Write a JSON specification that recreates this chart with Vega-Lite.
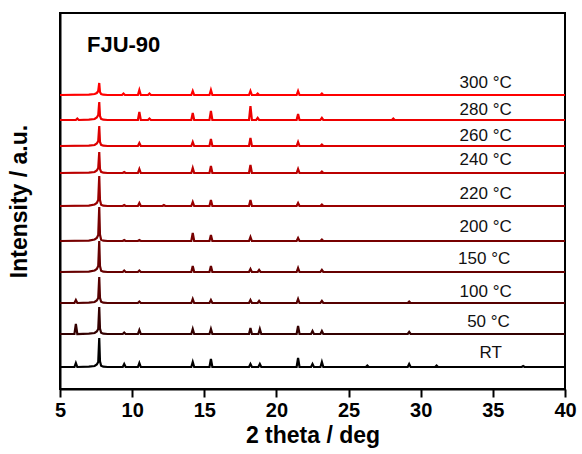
{
"$schema": "https://vega.github.io/schema/vega-lite/v6.json",
"width": 505, "height": 376,
"autosize": {"type": "none"},
"padding": {"left": 60, "top": 13, "right": 17, "bottom": 65},
"config": {"view": {"stroke": "black", "strokeWidth": 2}, "font": "Liberation Sans"},
"layer": [
{
"data": {"values": [
{"s":"RT","t":5,"v":22},{"s":"RT","t":6.0,"v":22},{"s":"RT","t":6.1,"v":26},{"s":"RT","t":6.2,"v":22},{"s":"RT","t":7.0,"v":22.3},{"s":"RT","t":7.4,"v":23},{"s":"RT","t":7.55,"v":24.5},{"s":"RT","t":7.65,"v":27},{"s":"RT","t":7.72,"v":51},{"s":"RT","t":7.77,"v":27.8},{"s":"RT","t":7.85,"v":23.2},{"s":"RT","t":8.0,"v":22.3},{"s":"RT","t":8.3,"v":22},{"s":"RT","t":9.35,"v":22},{"s":"RT","t":9.45,"v":25},{"s":"RT","t":9.55,"v":22},{"s":"RT","t":10.4,"v":22},{"s":"RT","t":10.5,"v":26},{"s":"RT","t":10.6,"v":22},{"s":"RT","t":14.1,"v":22},{"s":"RT","t":14.2,"v":27},{"s":"RT","t":14.3,"v":22},{"s":"RT","t":15.36,"v":22},{"s":"RT","t":15.46,"v":30},{"s":"RT","t":15.56,"v":22},{"s":"RT","t":18.1,"v":22},{"s":"RT","t":18.2,"v":25},{"s":"RT","t":18.3,"v":22},{"s":"RT","t":18.75,"v":22},{"s":"RT","t":18.85,"v":25},{"s":"RT","t":18.95,"v":22},{"s":"RT","t":21.4,"v":22},{"s":"RT","t":21.5,"v":31},{"s":"RT","t":21.6,"v":22},{"s":"RT","t":22.4,"v":22},{"s":"RT","t":22.5,"v":25},{"s":"RT","t":22.6,"v":22},{"s":"RT","t":23.05,"v":22},{"s":"RT","t":23.15,"v":27},{"s":"RT","t":23.25,"v":22},{"s":"RT","t":26.2,"v":22},{"s":"RT","t":26.3,"v":23.5},{"s":"RT","t":26.4,"v":22},{"s":"RT","t":29.1,"v":22},{"s":"RT","t":29.2,"v":25},{"s":"RT","t":29.3,"v":22},{"s":"RT","t":31.0,"v":22},{"s":"RT","t":31.1,"v":23.5},{"s":"RT","t":31.2,"v":22},{"s":"RT","t":37.0,"v":22},{"s":"RT","t":37.1,"v":23},{"s":"RT","t":37.2,"v":22},{"s":"RT","t":40,"v":22},

{"s":"50","t":5,"v":55},{"s":"50","t":6.0,"v":55},{"s":"50","t":6.1,"v":65},{"s":"50","t":6.2,"v":55},{"s":"50","t":7.0,"v":55.3},{"s":"50","t":7.4,"v":56},{"s":"50","t":7.55,"v":57.5},{"s":"50","t":7.65,"v":60},{"s":"50","t":7.72,"v":82},{"s":"50","t":7.77,"v":60.4},{"s":"50","t":7.85,"v":56.2},{"s":"50","t":8.0,"v":55.3},{"s":"50","t":8.3,"v":55},{"s":"50","t":9.35,"v":55},{"s":"50","t":9.45,"v":56.5},{"s":"50","t":9.55,"v":55},{"s":"50","t":10.4,"v":55},{"s":"50","t":10.5,"v":59},{"s":"50","t":10.6,"v":55},{"s":"50","t":14.1,"v":55},{"s":"50","t":14.2,"v":60},{"s":"50","t":14.3,"v":55},{"s":"50","t":15.36,"v":55},{"s":"50","t":15.46,"v":60},{"s":"50","t":15.56,"v":55},{"s":"50","t":18.1,"v":55},{"s":"50","t":18.2,"v":61},{"s":"50","t":18.3,"v":55},{"s":"50","t":18.75,"v":55},{"s":"50","t":18.85,"v":60},{"s":"50","t":18.95,"v":55},{"s":"50","t":21.4,"v":55},{"s":"50","t":21.5,"v":63},{"s":"50","t":21.6,"v":55},{"s":"50","t":22.4,"v":55},{"s":"50","t":22.5,"v":58},{"s":"50","t":22.6,"v":55},{"s":"50","t":23.05,"v":55},{"s":"50","t":23.15,"v":58},{"s":"50","t":23.25,"v":55},{"s":"50","t":29.1,"v":55},{"s":"50","t":29.2,"v":57},{"s":"50","t":29.3,"v":55},{"s":"50","t":40,"v":55},

{"s":"100","t":5,"v":86},{"s":"100","t":6.0,"v":86},{"s":"100","t":6.1,"v":89},{"s":"100","t":6.2,"v":86},{"s":"100","t":7.0,"v":86.3},{"s":"100","t":7.4,"v":87},{"s":"100","t":7.55,"v":88.5},{"s":"100","t":7.65,"v":91},{"s":"100","t":7.72,"v":112},{"s":"100","t":7.77,"v":91.2},{"s":"100","t":7.85,"v":87.2},{"s":"100","t":8.0,"v":86.3},{"s":"100","t":8.3,"v":86},{"s":"100","t":10.4,"v":86},{"s":"100","t":10.5,"v":87.5},{"s":"100","t":10.6,"v":86},{"s":"100","t":14.1,"v":86},{"s":"100","t":14.2,"v":90},{"s":"100","t":14.3,"v":86},{"s":"100","t":15.36,"v":86},{"s":"100","t":15.46,"v":89},{"s":"100","t":15.56,"v":86},{"s":"100","t":18.1,"v":86},{"s":"100","t":18.2,"v":89},{"s":"100","t":18.3,"v":86},{"s":"100","t":18.7,"v":86},{"s":"100","t":18.8,"v":88},{"s":"100","t":18.9,"v":86},{"s":"100","t":21.4,"v":86},{"s":"100","t":21.5,"v":90},{"s":"100","t":21.6,"v":86},{"s":"100","t":23.05,"v":86},{"s":"100","t":23.15,"v":88},{"s":"100","t":23.25,"v":86},{"s":"100","t":29.1,"v":86},{"s":"100","t":29.2,"v":87.5},{"s":"100","t":29.3,"v":86},{"s":"100","t":40,"v":86},

{"s":"150","t":5,"v":117},{"s":"150","t":7.0,"v":117.4},{"s":"150","t":7.4,"v":118.5},{"s":"150","t":7.55,"v":120},{"s":"150","t":7.65,"v":123},{"s":"150","t":7.72,"v":148},{"s":"150","t":7.77,"v":123},{"s":"150","t":7.85,"v":118.2},{"s":"150","t":8.0,"v":117.3},{"s":"150","t":8.3,"v":117},{"s":"150","t":9.35,"v":117},{"s":"150","t":9.45,"v":118.5},{"s":"150","t":9.55,"v":117},{"s":"150","t":10.4,"v":117},{"s":"150","t":10.5,"v":118.5},{"s":"150","t":10.6,"v":117},{"s":"150","t":14.1,"v":117},{"s":"150","t":14.2,"v":123},{"s":"150","t":14.3,"v":117},{"s":"150","t":15.36,"v":117},{"s":"150","t":15.46,"v":123},{"s":"150","t":15.56,"v":117},{"s":"150","t":18.1,"v":117},{"s":"150","t":18.2,"v":120},{"s":"150","t":18.3,"v":117},{"s":"150","t":18.7,"v":117},{"s":"150","t":18.8,"v":119},{"s":"150","t":18.9,"v":117},{"s":"150","t":21.4,"v":117},{"s":"150","t":21.5,"v":121},{"s":"150","t":21.6,"v":117},{"s":"150","t":23.05,"v":117},{"s":"150","t":23.15,"v":119},{"s":"150","t":23.25,"v":117},{"s":"150","t":40,"v":117},

{"s":"200","t":5,"v":148},{"s":"200","t":7.0,"v":148.4},{"s":"200","t":7.4,"v":149.5},{"s":"200","t":7.55,"v":151},{"s":"200","t":7.65,"v":154},{"s":"200","t":7.72,"v":182},{"s":"200","t":7.77,"v":154.5},{"s":"200","t":7.85,"v":149.2},{"s":"200","t":8.0,"v":148.3},{"s":"200","t":8.3,"v":148},{"s":"200","t":9.35,"v":148},{"s":"200","t":9.45,"v":149},{"s":"200","t":9.55,"v":148},{"s":"200","t":10.4,"v":148},{"s":"200","t":10.5,"v":149},{"s":"200","t":10.6,"v":148},{"s":"200","t":14.1,"v":148},{"s":"200","t":14.2,"v":156},{"s":"200","t":14.3,"v":148},{"s":"200","t":15.36,"v":148},{"s":"200","t":15.46,"v":154},{"s":"200","t":15.56,"v":148},{"s":"200","t":18.1,"v":148},{"s":"200","t":18.2,"v":152},{"s":"200","t":18.3,"v":148},{"s":"200","t":21.4,"v":148},{"s":"200","t":21.5,"v":151},{"s":"200","t":21.6,"v":148},{"s":"200","t":23.05,"v":148},{"s":"200","t":23.15,"v":149.5},{"s":"200","t":23.25,"v":148},{"s":"200","t":40,"v":148},

{"s":"220","t":5,"v":183},{"s":"220","t":7.0,"v":183.4},{"s":"220","t":7.4,"v":184.5},{"s":"220","t":7.55,"v":186},{"s":"220","t":7.65,"v":189},{"s":"220","t":7.72,"v":213},{"s":"220","t":7.77,"v":189},{"s":"220","t":7.85,"v":184.2},{"s":"220","t":8.0,"v":183.3},{"s":"220","t":8.3,"v":183},{"s":"220","t":9.35,"v":183},{"s":"220","t":9.45,"v":184},{"s":"220","t":9.55,"v":183},{"s":"220","t":10.4,"v":183},{"s":"220","t":10.5,"v":186},{"s":"220","t":10.6,"v":183},{"s":"220","t":12.1,"v":183},{"s":"220","t":12.2,"v":184},{"s":"220","t":12.3,"v":183},{"s":"220","t":14.1,"v":183},{"s":"220","t":14.2,"v":187},{"s":"220","t":14.3,"v":183},{"s":"220","t":15.36,"v":183},{"s":"220","t":15.46,"v":189},{"s":"220","t":15.56,"v":183},{"s":"220","t":18.1,"v":183},{"s":"220","t":18.2,"v":189},{"s":"220","t":18.3,"v":183},{"s":"220","t":21.4,"v":183},{"s":"220","t":21.5,"v":186},{"s":"220","t":21.6,"v":183},{"s":"220","t":23.05,"v":183},{"s":"220","t":23.15,"v":184.5},{"s":"220","t":23.25,"v":183},{"s":"220","t":40,"v":183},

{"s":"240","t":5,"v":216},{"s":"240","t":7.0,"v":216.3},{"s":"240","t":7.4,"v":217},{"s":"240","t":7.55,"v":218.5},{"s":"240","t":7.65,"v":221},{"s":"240","t":7.72,"v":237},{"s":"240","t":7.77,"v":220},{"s":"240","t":7.85,"v":217.2},{"s":"240","t":8.0,"v":216.3},{"s":"240","t":8.3,"v":216},{"s":"240","t":9.35,"v":216},{"s":"240","t":9.45,"v":217},{"s":"240","t":9.55,"v":216},{"s":"240","t":10.4,"v":216},{"s":"240","t":10.5,"v":220},{"s":"240","t":10.6,"v":216},{"s":"240","t":14.1,"v":216},{"s":"240","t":14.2,"v":221},{"s":"240","t":14.3,"v":216},{"s":"240","t":15.36,"v":216},{"s":"240","t":15.46,"v":223},{"s":"240","t":15.56,"v":216},{"s":"240","t":18.1,"v":216},{"s":"240","t":18.2,"v":224},{"s":"240","t":18.3,"v":216},{"s":"240","t":21.4,"v":216},{"s":"240","t":21.5,"v":220},{"s":"240","t":21.6,"v":216},{"s":"240","t":23.05,"v":216},{"s":"240","t":23.15,"v":217.5},{"s":"240","t":23.25,"v":216},{"s":"240","t":40,"v":216},

{"s":"260","t":5,"v":243},{"s":"260","t":7.0,"v":243.3},{"s":"260","t":7.4,"v":244},{"s":"260","t":7.55,"v":245.5},{"s":"260","t":7.65,"v":248},{"s":"260","t":7.72,"v":263},{"s":"260","t":7.77,"v":247},{"s":"260","t":7.85,"v":244.2},{"s":"260","t":8.0,"v":243.3},{"s":"260","t":8.3,"v":243},{"s":"260","t":10.4,"v":243},{"s":"260","t":10.5,"v":246},{"s":"260","t":10.6,"v":243},{"s":"260","t":14.1,"v":243},{"s":"260","t":14.2,"v":247},{"s":"260","t":14.3,"v":243},{"s":"260","t":15.36,"v":243},{"s":"260","t":15.46,"v":250},{"s":"260","t":15.56,"v":243},{"s":"260","t":18.1,"v":243},{"s":"260","t":18.2,"v":251},{"s":"260","t":18.3,"v":243},{"s":"260","t":21.4,"v":243},{"s":"260","t":21.5,"v":247},{"s":"260","t":21.6,"v":243},{"s":"260","t":23.05,"v":243},{"s":"260","t":23.15,"v":244.5},{"s":"260","t":23.25,"v":243},{"s":"260","t":40,"v":243},

{"s":"280","t":5,"v":269},{"s":"280","t":6.1,"v":269},{"s":"280","t":6.2,"v":270.5},{"s":"280","t":6.3,"v":269},{"s":"280","t":7.0,"v":269.3},{"s":"280","t":7.4,"v":270},{"s":"280","t":7.55,"v":271.5},{"s":"280","t":7.65,"v":274},{"s":"280","t":7.72,"v":287},{"s":"280","t":7.77,"v":273},{"s":"280","t":7.85,"v":270.2},{"s":"280","t":8.0,"v":269.3},{"s":"280","t":8.3,"v":269},{"s":"280","t":10.4,"v":269},{"s":"280","t":10.5,"v":277},{"s":"280","t":10.6,"v":269},{"s":"280","t":11.1,"v":269},{"s":"280","t":11.2,"v":270.5},{"s":"280","t":11.3,"v":269},{"s":"280","t":14.1,"v":269},{"s":"280","t":14.2,"v":276},{"s":"280","t":14.3,"v":269},{"s":"280","t":15.36,"v":269},{"s":"280","t":15.46,"v":278},{"s":"280","t":15.56,"v":269},{"s":"280","t":18.1,"v":269},{"s":"280","t":18.2,"v":283},{"s":"280","t":18.3,"v":269},{"s":"280","t":18.6,"v":269},{"s":"280","t":18.7,"v":271},{"s":"280","t":18.8,"v":269},{"s":"280","t":21.4,"v":269},{"s":"280","t":21.5,"v":275},{"s":"280","t":21.6,"v":269},{"s":"280","t":23.05,"v":269},{"s":"280","t":23.15,"v":271},{"s":"280","t":23.25,"v":269},{"s":"280","t":28.0,"v":269},{"s":"280","t":28.1,"v":270.5},{"s":"280","t":28.2,"v":269},{"s":"280","t":40,"v":269},

{"s":"300","t":5,"v":294},{"s":"300","t":7.0,"v":294.3},{"s":"300","t":7.4,"v":295},{"s":"300","t":7.55,"v":296},{"s":"300","t":7.65,"v":298},{"s":"300","t":7.72,"v":306},{"s":"300","t":7.77,"v":297},{"s":"300","t":7.85,"v":295},{"s":"300","t":8.0,"v":294.3},{"s":"300","t":8.3,"v":294},{"s":"300","t":9.3,"v":294},{"s":"300","t":9.4,"v":295.5},{"s":"300","t":9.5,"v":294},{"s":"300","t":10.4,"v":294},{"s":"300","t":10.5,"v":299},{"s":"300","t":10.6,"v":294},{"s":"300","t":11.1,"v":294},{"s":"300","t":11.2,"v":295.5},{"s":"300","t":11.3,"v":294},{"s":"300","t":14.1,"v":294},{"s":"300","t":14.2,"v":298},{"s":"300","t":14.3,"v":294},{"s":"300","t":15.36,"v":294},{"s":"300","t":15.46,"v":299},{"s":"300","t":15.56,"v":294},{"s":"300","t":18.1,"v":294},{"s":"300","t":18.2,"v":298},{"s":"300","t":18.3,"v":294},{"s":"300","t":18.6,"v":294},{"s":"300","t":18.7,"v":295.5},{"s":"300","t":18.8,"v":294},{"s":"300","t":21.4,"v":294},{"s":"300","t":21.5,"v":298},{"s":"300","t":21.6,"v":294},{"s":"300","t":23.05,"v":294},{"s":"300","t":23.15,"v":295.5},{"s":"300","t":23.25,"v":294},{"s":"300","t":40,"v":294}
]},
"mark": {"type": "line", "strokeWidth": 2.2, "clip": true},
"encoding": {
"x": {"field": "t", "type": "quantitative", "scale": {"domain": [5, 40], "nice": false, "zero": false},
"axis": {"values": [5, 7.5, 10, 12.5, 15, 17.5, 20, 22.5, 25, 27.5, 30, 32.5, 35, 37.5, 40],
"labelExpr": "datum.value % 5 === 0 ? datum.label : ''",
"tickSize": {"condition": {"test": "datum.value % 5 === 0", "value": 8}, "value": 5},
"tickWidth": 2, "tickColor": "black", "domainColor": "black", "domainWidth": 2, "grid": false,
"labelFontSize": 20, "labelFontWeight": "bold", "labelColor": "black", "labelPadding": 3, "labelFlush": false,
"title": "2 theta / deg", "titleFontSize": 23, "titleFontWeight": "bold", "titleColor": "black", "titlePadding": 4}},
"y": {"field": "v", "type": "quantitative", "scale": {"domain": [0, 376], "nice": false},
"axis": {"ticks": false, "labels": false, "grid": false, "domainColor": "black", "domainWidth": 2,
"title": "Intensity / a.u.", "titleFontSize": 23, "titleFontWeight": "bold", "titleColor": "black", "titlePadding": 29}},
"color": {"field": "s", "type": "nominal", "legend": null,
"scale": {"domain": ["RT", "50", "100", "150", "200", "220", "240", "260", "280", "300"],
"range": ["#000000", "#330000", "#550000", "#660000", "#770000", "#990000", "#bb0000", "#dd0000", "#ee0000", "#ff0000"]}}
}
},
{
"data": {"values": [
{"t": 34.5, "v": 306, "label": "300 °C"},
{"t": 34.5, "v": 279, "label": "280 °C"},
{"t": 34.5, "v": 253, "label": "260 °C"},
{"t": 34.5, "v": 229, "label": "240 °C"},
{"t": 34.5, "v": 195, "label": "220 °C"},
{"t": 34.5, "v": 162, "label": "200 °C"},
{"t": 34.4, "v": 130, "label": "150 °C"},
{"t": 34.5, "v": 97, "label": "100 °C"},
{"t": 34.7, "v": 67, "label": "50 °C"},
{"t": 34.85, "v": 36, "label": "RT"}
]},
"mark": {"type": "text", "fontSize": 17, "color": "#111111"},
"encoding": {
"x": {"field": "t", "type": "quantitative"},
"y": {"field": "v", "type": "quantitative"},
"text": {"field": "label"}
}
},
{
"data": {"values": [{"t": 6.87, "v": 344, "label": "FJU-90"}]},
"mark": {"type": "text", "fontSize": 22, "fontWeight": "bold", "align": "left", "color": "black"},
"encoding": {
"x": {"field": "t", "type": "quantitative"},
"y": {"field": "v", "type": "quantitative"},
"text": {"field": "label"}
}
}
]
}
